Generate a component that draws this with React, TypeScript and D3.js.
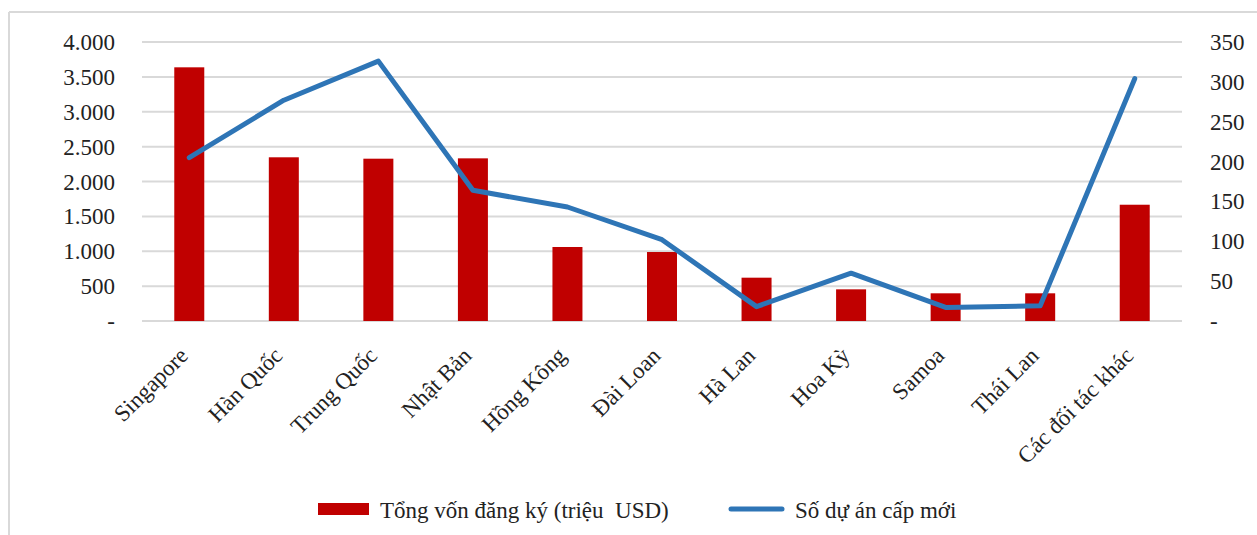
import { useEffect, useRef } from "react";
import * as d3 from "d3";

const categories = [
  "Singapore",
  "Hàn Quốc",
  "Trung Quốc",
  "Nhật Bản",
  "Hồng Kông",
  "Đài Loan",
  "Hà Lan",
  "Hoa Kỳ",
  "Samoa",
  "Thái Lan",
  "Các đối tác khác",
];
// Tổng vốn đăng ký (triệu USD)
const capital = [3637, 2347, 2327, 2332, 1061, 989, 621, 454, 397, 397, 1667];
// Số dự án cấp mới
const projects = [205, 277, 326, 164, 143, 102, 18, 60, 17, 19, 304];
const leftTicks = [0, 500, 1000, 1500, 2000, 2500, 3000, 3500, 4000];
const rightTicks = [0, 50, 100, 150, 200, 250, 300, 350];
const legendLabels = ["Tổng vốn đăng ký (triệu  USD)", "Số dự án cấp mới"];

const W = 1257;
const H = 535;
const FONT = "'Liberation Serif', 'Times New Roman', serif";
const FS = 23;

export default function App() {
  const svgRef = useRef<SVGSVGElement | null>(null);

  useEffect(() => {
    const svg = d3.select(svgRef.current);
    svg.selectAll("*").remove();

    const left = 142;
    const right = 1182;
    const top = 42;
    const bottom = 321;

    const x = d3.scaleBand().domain(categories).range([left, right]).padding(0);
    const yL = d3.scaleLinear().domain([0, 4000]).range([bottom, top]);
    const yR = d3.scaleLinear().domain([0, 350]).range([bottom, top]);
    const fmt = (v: number) => (v === 0 ? "-" : d3.format(",")(v).replace(/,/g, "."));

    // frame (top + left edge only)
    svg.append("line").attr("x1", 9).attr("x2", W).attr("y1", 12).attr("y2", 12)
      .attr("stroke", "#d9d9d9").attr("stroke-width", 2);
    svg.append("line").attr("x1", 9).attr("x2", 9).attr("y1", 12).attr("y2", H)
      .attr("stroke", "#d9d9d9").attr("stroke-width", 2);

    // gridlines
    svg.append("g").selectAll("line").data(leftTicks).join("line")
      .attr("x1", left).attr("x2", right)
      .attr("y1", (d) => yL(d)).attr("y2", (d) => yL(d))
      .attr("stroke", "#d9d9d9").attr("stroke-width", 2);

    // left axis labels
    svg.append("g").selectAll("text").data(leftTicks).join("text")
      .attr("x", 115).attr("y", (d) => yL(d)).attr("dy", "0.35em")
      .attr("text-anchor", "end").attr("font-family", FONT).attr("font-size", FS)
      .attr("fill", "#222")
      .text((d) => fmt(d));

    // right axis labels
    svg.append("g").selectAll("text").data(rightTicks).join("text")
      .attr("x", 1210).attr("y", (d) => yR(d)).attr("dy", "0.35em")
      .attr("text-anchor", "start").attr("font-family", FONT).attr("font-size", FS)
      .attr("fill", "#222")
      .text((d) => fmt(d));

    // bars
    const bw = 30;
    svg.append("g").selectAll("rect").data(categories).join("rect")
      .attr("x", (d) => (x(d) as number) + x.bandwidth() / 2 - bw / 2)
      .attr("width", bw)
      .attr("y", (_, i) => yL(capital[i]))
      .attr("height", (_, i) => bottom - yL(capital[i]))
      .attr("fill", "#c00000");

    // line
    const line = d3.line<number>()
      .x((_, i) => (x(categories[i]) as number) + x.bandwidth() / 2)
      .y((d) => yR(d));
    svg.append("path").datum(projects)
      .attr("d", line)
      .attr("fill", "none")
      .attr("stroke", "#2e75b6")
      .attr("stroke-width", 5)
      .attr("stroke-linejoin", "round")
      .attr("stroke-linecap", "round");

    // category labels
    svg.append("g").selectAll("text").data(categories).join("text")
      .attr("transform", (d) => {
        const cx = (x(d) as number) + x.bandwidth() / 2;
        return `translate(${cx},${357}) rotate(-45)`;
      })
      .attr("text-anchor", "end")
      .attr("font-family", FONT).attr("font-size", FS).attr("fill", "#222")
      .text((d) => d);

    // legend
    const lg = svg.append("g");
    lg.append("rect").attr("x", 318).attr("y", 503).attr("width", 51).attr("height", 12)
      .attr("fill", "#c00000");
    lg.append("text").attr("x", 380).attr("y", 518)
      .attr("font-family", FONT).attr("font-size", FS).attr("fill", "#222")
      .attr("xml:space", "preserve").style("white-space", "pre")
      .text(legendLabels[0]);
    lg.append("line").attr("x1", 731).attr("x2", 782).attr("y1", 509).attr("y2", 509)
      .attr("stroke", "#2e75b6").attr("stroke-width", 5).attr("stroke-linecap", "round");
    lg.append("text").attr("x", 795).attr("y", 518)
      .attr("font-family", FONT).attr("font-size", FS).attr("fill", "#222")
      .text(legendLabels[1]);
  }, []);

  return (
    <svg
      ref={svgRef}
      width={W}
      height={H}
      style={{ position: "absolute", left: 0, top: 0, background: "#fff" }}
    />
  );
}
